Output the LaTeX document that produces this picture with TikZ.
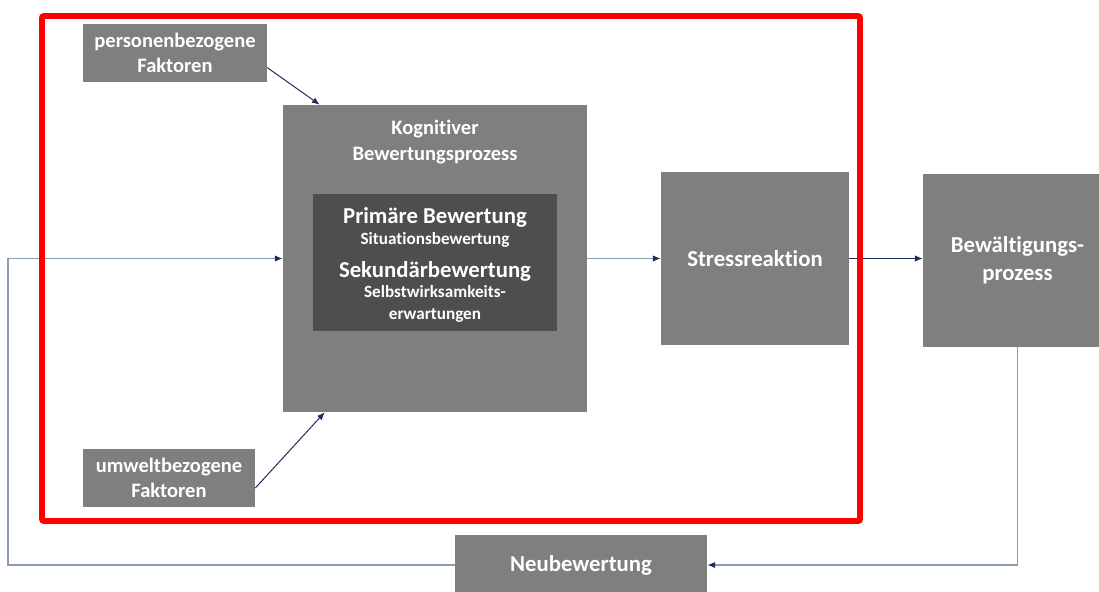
\documentclass[tikz,border=0pt]{standalone}
\usepackage{fontspec}
\setmainfont{Carlito}[Ligatures=NoCommon]
\usetikzlibrary{arrows.meta,calc,positioning}

\definecolor{boxgray}{RGB}{127,127,127}
\definecolor{innergray}{RGB}{78,78,78}
\definecolor{linegray}{RGB}{140,156,178}
\definecolor{navy}{RGB}{30,42,92}
\definecolor{framered}{RGB}{255,0,0}

\begin{document}
\begin{tikzpicture}[x=0.025cm,y=-0.025cm,
    box/.style={fill=boxgray, text=white, align=center, inner sep=0pt,
      font=\bfseries\fontsize{14.6}{17.5}\selectfont},
    bigbox/.style={box, font=\bfseries\fontsize{16.2}{20}\selectfont},
    lbl/.style={text=white, inner sep=0pt, anchor=base},
    txtmid/.style={lbl, font=\bfseries\fontsize{14.6}{16}\selectfont},
    txtbig/.style={lbl, font=\bfseries\fontsize{16.2}{18}\selectfont},
    txtsmall/.style={lbl, font=\bfseries\fontsize{12.2}{14}\selectfont},
    flow/.style={draw=linegray, line width=1pt,
      -{Latex[length=5.5pt,width=4.5pt,color=navy]}},
    flowdark/.style={draw=navy, line width=0.7pt,
      -{Latex[length=5.5pt,width=4.5pt,color=navy]}}]
  \useasboundingbox (0,0) rectangle (1099,592);

  % boxes
  \node[box, minimum width=4.6cm, minimum height=1.45cm] (pers) at (175,53) {personenbezogene\\Faktoren};
  \node[box, minimum width=7.6cm, minimum height=7.675cm] (kog) at (435,258.5) {};
  \node[fill=innergray, minimum width=6.1cm, minimum height=3.425cm, inner sep=0pt] (inner) at (435,262.5) {};
  \node[bigbox, minimum width=4.7cm, minimum height=4.325cm] (stress) at (755,258.5) {Stressreaktion};
  \node[bigbox, minimum width=4.725cm, minimum height=4.325cm] (bew) at (1017.5,260.5) {Bewältigungs-\\prozess};
  \node[box, minimum width=4.3cm, minimum height=1.45cm] (umw) at (169,478) {umweltbezogene\\Faktoren};
  \node[bigbox, minimum width=6.3cm, minimum height=1.5cm] (neu) at (581,565) {Neubewertung};

  % texts in the appraisal box
  \node[txtmid] (kogA) at (435,134) {Kognitiver};
  \node[txtmid] (kogB) at (435,160) {Bewertungsprozess};
  \node[txtbig] (prim) at (435,223) {Primäre Bewertung};
  \node[txtsmall] (situ) at (435,244) {Situationsbewertung};
  \node[txtbig] (sek) at (435,277) {Sekundärbewertung};
  \node[txtsmall] (selbst) at (435,297) {Selbstwirksamkeits-};
  \node[txtsmall] (erw) at (435,319) {erwartungen};

  % arrows
  \coordinate (back) at (8,565);
  \draw[flow] (kog.east) -- (stress.west);
  \draw[flowdark] (stress.east) -- (stress.east -| bew.west);
  \draw[flowdark] ($(pers.east)!0.5!(pers.south east)$) -- ([xshift=0.925cm]kog.north west);
  \draw[flowdark] ([yshift=-0.25cm]umw.east) -- ([xshift=1.05cm]kog.south west);
  \draw[flow] (bew.south) |- (neu.east);
  \draw[flow] (neu.west) -- (back) |- (kog.west);

  % frame
  \draw[framered, line width=4.25pt, rounded corners=1.5pt] (42,16) rectangle (860,521);
\end{tikzpicture}
\end{document}
